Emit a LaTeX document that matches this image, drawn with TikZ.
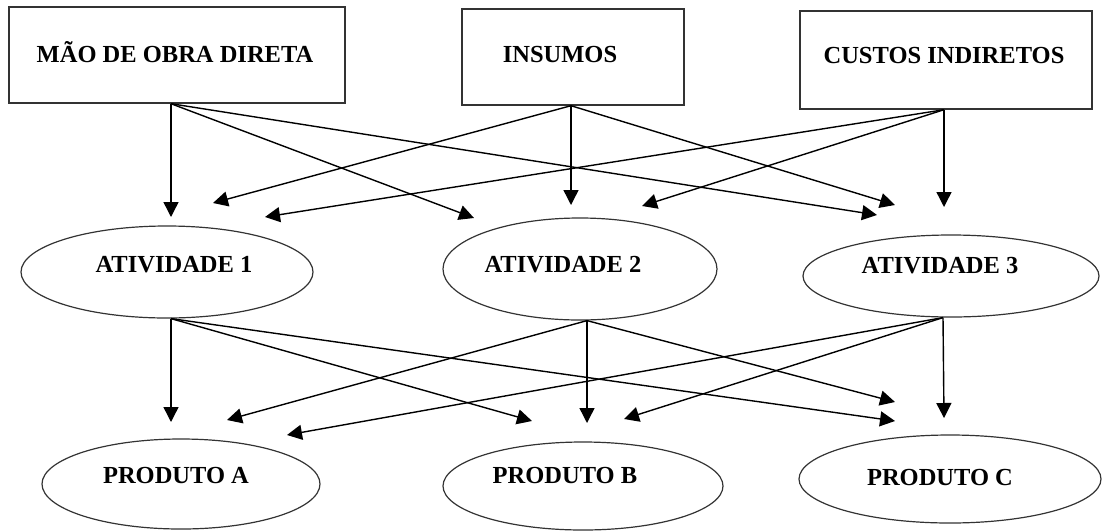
\documentclass[tikz,border=0pt]{standalone}
\usepackage{fontspec}
\setmainfont{Liberation Serif}
\usetikzlibrary{arrows.meta,shapes.geometric}
\begin{document}
\begin{tikzpicture}[x=1pt,y=-1pt,
  boxshape/.style={draw=black!80,line width=1.4pt,rectangle,inner sep=0pt},
  ellshape/.style={draw=black!80,line width=1.2pt,ellipse,inner sep=0pt},
  lbl/.style={anchor=base,inner sep=0pt,font=\fontsize{24.5}{29}\selectfont\bfseries},
  conn/.style={draw=black,line width=1.4pt,-{Triangle[length=15pt,width=15pt]}}]
\useasboundingbox (0,0) rectangle (1102,531);
% boxes
\node[boxshape,minimum width=336pt,minimum height=96pt] (b1) at (177,55) {};
\node[boxshape,minimum width=222pt,minimum height=96pt] (b2) at (573,57) {};
\node[boxshape,minimum width=292pt,minimum height=98pt] (b3) at (946,60) {};
% activities
\node[ellshape,minimum width=292pt,minimum height=92pt] (a1) at (167,272) {};
\node[ellshape,minimum width=274pt,minimum height=102pt] (a2) at (580,269) {};
\node[ellshape,minimum width=296pt,minimum height=82pt] (a3) at (951,276) {};
% products
\node[ellshape,minimum width=278pt,minimum height=90pt] (pa) at (181,484) {};
\node[ellshape,minimum width=280pt,minimum height=88pt] (pb) at (583,486) {};
\node[ellshape,minimum width=302pt,minimum height=88pt] (pc) at (950,479) {};
% labels
\node[lbl] (tb1) at (175,62) {MÃO DE OBRA DIRETA};
\node[lbl] (tb2) at (560,62) {INSUMOS};
\node[lbl] (tb3) at (944,63) {CUSTOS INDIRETOS};
\node[lbl] (ta1) at (174,272) {ATIVIDADE 1};
\node[lbl] (ta2) at (563,272) {ATIVIDADE 2};
\node[lbl] (ta3) at (940,273) {ATIVIDADE 3};
\node[lbl] (tpa) at (176,483) {PRODUTO A};
\node[lbl] (tpb) at (565,483) {PRODUTO B};
\node[lbl] (tpc) at (940,485) {PRODUTO C};
% start points
\coordinate (b1o) at ([xshift=-6pt]b1.south);
\coordinate (b2o) at ([xshift=-2pt]b2.south);
\coordinate (b3o) at ([xshift=-2pt]b3.south);
\coordinate (a1o) at ([xshift=4pt]a1.south);
\coordinate (a2o) at ([xshift=7pt]a2.south);
\coordinate (a3o) at ([xshift=-8pt]a3.south);
% arrow tips
\coordinate (b1a1) at (171,217);
\coordinate (b1a2) at (474,218);
\coordinate (b1a3) at (877,215);
\coordinate (b2a1) at (213,203);
\coordinate (b2a2) at (571,205);
\coordinate (b2a3) at (895,205);
\coordinate (b3a1) at (265,217);
\coordinate (b3a2) at (642,206);
\coordinate (b3a3) at (944,207);
\coordinate (a1pa) at (171,422);
\coordinate (a1pb) at (532,421);
\coordinate (a1pc) at (895,421);
\coordinate (a2pa) at (227,420);
\coordinate (a2pb) at (587,423);
\coordinate (a2pc) at (895,402);
\coordinate (a3pa) at (287,435);
\coordinate (a3pb) at (624,419);
\coordinate (a3pc) at (944,418);
% connectors
\draw[conn] (b1o) -- (b1a1);
\draw[conn] (b1o) -- (b1a2);
\draw[conn] (b1o) -- (b1a3);
\draw[conn] (b2o) -- (b2a1);
\draw[conn] (b2o) -- (b2a2);
\draw[conn] (b2o) -- (b2a3);
\draw[conn] (b3o) -- (b3a1);
\draw[conn] (b3o) -- (b3a2);
\draw[conn] (b3o) -- (b3a3);
\draw[conn] (a1o) -- (a1pa);
\draw[conn] (a1o) -- (a1pb);
\draw[conn] (a1o) -- (a1pc);
\draw[conn] (a2o) -- (a2pa);
\draw[conn] (a2o) -- (a2pb);
\draw[conn] (a2o) -- (a2pc);
\draw[conn] (a3o) -- (a3pa);
\draw[conn] (a3o) -- (a3pb);
\draw[conn] (a3o) -- (a3pc);
\end{tikzpicture}
\end{document}
